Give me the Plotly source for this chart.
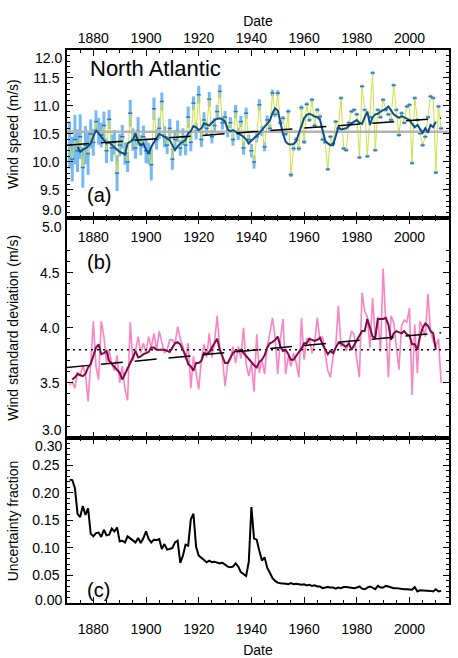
import plotly.graph_objects as go

# annual values
years = list(range(1871, 2013))

speed = [
    10.30, 10.05, 10.40, 10.20, 10.45, 9.90, 10.30, 10.15, 10.50, 10.35,
    10.72, 10.55, 10.48, 10.65, 10.20, 10.76, 10.25, 10.35, 9.80, 10.30,
    10.45, 10.15, 10.00, 10.87, 10.40, 10.25, 10.55, 10.30, 10.45, 10.20,
    10.15, 9.95, 10.95, 10.40, 10.60, 11.08, 10.45, 10.30, 10.60, 10.05,
    10.40, 10.55, 10.25, 10.45, 10.30, 10.80, 10.35, 11.05, 10.55, 11.20,
    10.40, 10.75, 10.60, 11.12, 10.45, 10.65, 10.90, 11.26, 10.70, 10.80,
    10.55, 10.70, 10.40, 10.90, 10.50, 10.72, 10.25, 10.87, 10.40, 10.20,
    10.00, 10.45, 11.02, 10.55, 10.27, 10.75, 10.60, 11.23, 10.85, 11.23,
    10.70, 10.78, 10.50, 10.90, 9.77, 10.24, 10.40, 10.24, 10.97, 10.36,
    11.03, 10.75, 11.11, 10.65, 10.93, 10.81, 10.40, 10.35, 9.87, 10.45,
    10.33, 10.72, 10.60, 11.14, 10.24, 10.21, 10.70, 10.90, 10.93, 10.85,
    10.08, 11.35, 10.93, 10.10, 10.80, 11.59, 10.21, 10.93, 10.80, 11.11,
    10.93, 10.85, 10.75, 11.37, 10.93, 10.48, 10.87, 10.70, 10.99, 11.02,
    9.98, 11.14, 10.75, 10.51, 10.30, 10.45, 10.80, 11.17, 11.14, 9.81,
    10.99, 10.60,
]

speed_err = [
    0.42, 0.40, 0.44, 0.38, 0.40, 0.36, 0.34, 0.38, 0.26, 0.24,
    0.20, 0.24, 0.22, 0.25, 0.22, 0.17, 0.24, 0.22, 0.32, 0.20,
    0.21, 0.20, 0.18, 0.24, 0.20, 0.19, 0.25, 0.18, 0.20, 0.22,
    0.19, 0.28, 0.20, 0.18, 0.19, 0.16, 0.19, 0.16, 0.17, 0.19,
    0.17, 0.19, 0.14, 0.15, 0.18, 0.19, 0.16, 0.12, 0.15, 0.16,
    0.13, 0.14, 0.12, 0.13, 0.12, 0.13, 0.12, 0.12, 0.12, 0.11,
    0.11, 0.10, 0.11, 0.12, 0.11, 0.10, 0.12, 0.10, 0.09, 0.12,
    0.12, 0.10, 0.10, 0.09, 0.08, 0.08, 0.07, 0.06, 0.05, 0.05,
    0.04, 0.04, 0.04, 0.04, 0.04, 0.04, 0.04, 0.04, 0.04, 0.04,
    0.035, 0.035, 0.035, 0.035, 0.035, 0.035, 0.03, 0.03, 0.03, 0.03,
    0.03, 0.03, 0.03, 0.03, 0.03, 0.03, 0.03, 0.03, 0.03, 0.03,
    0.03, 0.03, 0.03, 0.03, 0.03, 0.03, 0.03, 0.03, 0.03, 0.03,
    0.03, 0.03, 0.03, 0.03, 0.03, 0.03, 0.03, 0.03, 0.03, 0.03,
    0.03, 0.03, 0.03, 0.03, 0.03, 0.03, 0.03, 0.03, 0.03, 0.03,
    0.03, 0.03,
]

speed_smooth_years = list(range(1874, 2011))
speed_smooth = [
    10.27, 10.18, 10.22, 10.24, 10.28, 10.33, 10.45,
    10.57, 10.51, 10.45, 10.38, 10.33, 10.35, 10.30, 10.26, 10.22, 10.18,
    10.16, 10.13, 10.33, 10.36, 10.39, 10.51, 10.36, 10.30, 10.33, 10.22,
    10.15, 10.27, 10.35, 10.42, 10.50, 10.48, 10.45, 10.42, 10.39, 10.30,
    10.21, 10.28, 10.33, 10.36, 10.39, 10.51, 10.55, 10.64, 10.62, 10.57,
    10.60, 10.69, 10.67, 10.65, 10.70, 10.75, 10.77, 10.78, 10.76, 10.72,
    10.58, 10.55, 10.57, 10.54, 10.51, 10.48, 10.45, 10.40, 10.33, 10.38,
    10.43, 10.47, 10.51, 10.58, 10.63, 10.68, 10.74, 10.87, 10.96, 10.92,
    10.72, 10.50, 10.36, 10.32, 10.31, 10.32, 10.37, 10.51, 10.66, 10.78,
    10.84, 10.86, 10.84, 10.81, 10.80, 10.76, 10.57, 10.38, 10.33, 10.30,
    10.30, 10.45, 10.62, 10.58, 10.59, 10.60, 10.64, 10.69, 10.72, 10.75,
    10.70, 10.68, 10.80, 10.90, 10.66, 10.80, 10.85, 10.86, 10.90, 10.92,
    10.95, 10.99, 10.92, 10.85, 10.82, 10.79, 10.82, 10.80, 10.78, 10.75,
    10.68, 10.62, 10.66, 10.58, 10.52, 10.60, 10.52, 10.66, 10.62, 10.72,
]

speed_trend_years = [1870, 2012]
speed_trend = [10.30, 10.78]
speed_mean = 10.54

sd = [
    3.48, 3.51, 3.45, 3.60, 3.56, 3.66, 3.58, 3.33, 3.68, 4.06,
    3.65, 3.53, 4.06, 3.92, 3.68, 3.80, 3.67, 3.61, 3.75, 3.50,
    3.65, 3.44, 3.34, 4.05, 3.70, 3.79, 3.92, 3.77, 3.86, 3.77,
    3.92, 3.82, 3.95, 3.80, 3.97, 3.86, 3.77, 3.80, 3.89, 3.89,
    3.85, 4.01, 3.90, 3.83, 3.71, 3.86, 3.45, 3.74, 3.59, 3.44,
    3.71, 3.85, 3.73, 3.95, 3.73, 3.87, 4.11, 3.82, 3.73, 3.47,
    3.67, 3.71, 3.83, 3.68, 3.83, 3.72, 4.00, 3.67, 3.56, 3.68,
    3.42, 3.94, 3.59, 3.71, 3.58, 3.83, 3.95, 4.09, 3.91, 3.58,
    3.90, 4.08, 3.58, 3.74, 3.65, 3.77, 3.68, 3.55, 4.09, 3.71,
    3.90, 3.90, 3.77, 3.86, 4.09, 3.89, 3.92, 3.76, 3.61, 3.55,
    3.74, 3.83, 4.20, 3.83, 3.86, 3.79, 3.86, 3.97, 3.94, 3.71,
    3.55, 4.32, 4.15, 4.10, 3.82, 4.27, 3.91, 4.10, 3.78, 4.54,
    3.97, 3.55, 4.11, 4.05, 3.83, 3.62, 4.02, 4.07, 4.05, 4.18,
    3.39, 4.03, 3.59, 4.06, 4.00, 3.92, 4.31, 3.97, 3.88, 3.83,
    3.90, 3.50,
]

sd_smooth_years = list(range(1872, 2011))
sd_smooth = [
    3.53, 3.55, 3.58, 3.57, 3.56, 3.58, 3.64, 3.67, 3.75,
    3.82, 3.85, 3.76, 3.77, 3.79, 3.70, 3.67, 3.65, 3.62, 3.59,
    3.53, 3.58, 3.63, 3.67, 3.73, 3.79, 3.73, 3.74, 3.76, 3.77,
    3.78, 3.82, 3.82, 3.80, 3.80, 3.80, 3.80, 3.79, 3.78, 3.82,
    3.86, 3.87, 3.85, 3.80, 3.75, 3.67, 3.65, 3.61, 3.68, 3.68,
    3.70, 3.77, 3.76, 3.78, 3.82, 3.86, 3.90, 3.80, 3.73, 3.68,
    3.68, 3.73, 3.77, 3.79, 3.79, 3.80, 3.77, 3.74, 3.71, 3.68,
    3.66, 3.64, 3.69, 3.71, 3.75, 3.82, 3.86, 3.87, 3.89, 3.92,
    3.83, 3.79, 3.80, 3.76, 3.71, 3.71, 3.75, 3.78, 3.81, 3.86,
    3.86, 3.90, 3.89, 3.88, 3.89, 3.91, 3.85, 3.80, 3.76, 3.79,
    3.77, 3.82, 3.86, 3.86, 3.84, 3.83, 3.86, 3.80, 3.84, 3.88,
    3.92, 3.97, 3.97, 4.08, 4.00, 3.92, 3.91, 4.08, 4.08, 4.08,
    4.09, 4.03, 3.89, 3.95, 3.97, 3.96, 3.95, 3.97, 3.94, 3.93,
    3.85, 3.85, 3.80, 3.92, 4.00, 4.04, 4.02, 3.97, 3.95, 3.80,
]

sd_trend_years = [1870, 2012]
sd_trend = [3.64, 3.955]
sd_mean = 3.80

frac = [
    0.224, 0.223, 0.209, 0.162, 0.156, 0.176, 0.160, 0.172, 0.126, 0.121,
    0.127, 0.128, 0.120, 0.133, 0.123, 0.124, 0.135, 0.130, 0.137, 0.112,
    0.113, 0.110, 0.121, 0.117, 0.113, 0.110, 0.118, 0.109, 0.118, 0.130,
    0.116, 0.110, 0.115, 0.114, 0.116, 0.098, 0.107, 0.097, 0.098, 0.100,
    0.110, 0.113, 0.073, 0.086, 0.106, 0.104, 0.152, 0.162, 0.102, 0.086,
    0.082, 0.078, 0.074, 0.077, 0.074, 0.075, 0.073, 0.072, 0.073, 0.070,
    0.066, 0.065, 0.066, 0.072, 0.066, 0.056, 0.053, 0.049, 0.075, 0.174,
    0.117, 0.115, 0.095, 0.077, 0.083, 0.064, 0.055, 0.045, 0.040, 0.037,
    0.036, 0.036, 0.035, 0.034, 0.036, 0.034, 0.035, 0.034, 0.033, 0.034,
    0.032, 0.033, 0.031, 0.032, 0.030, 0.030, 0.027, 0.028, 0.029, 0.028,
    0.028, 0.026, 0.028, 0.027, 0.029, 0.029, 0.028, 0.027, 0.027, 0.028,
    0.030, 0.026, 0.025, 0.028, 0.030, 0.028, 0.025, 0.031, 0.028, 0.028,
    0.031, 0.030, 0.028, 0.027, 0.027, 0.026, 0.026, 0.025, 0.025, 0.024,
    0.024, 0.029, 0.021, 0.023, 0.023, 0.023, 0.023, 0.022, 0.021, 0.025,
    0.021, 0.022,
]

x_range = [1870, 2015]
FONT = "Liberation Sans"
TREND_DASH = "22px,12px"

fig = go.Figure()

# (a) wind speed
fig.add_trace(go.Scatter(
    x=years, y=speed, mode="markers",
    marker=dict(size=1, color="rgba(0,0,0,0)"),
    error_y=dict(type="data", array=speed_err, thickness=3, width=0, color="#74b9f7"),
    xaxis="x", yaxis="y"
))
fig.add_trace(go.Scatter(
    x=years, y=speed, mode="lines",
    line=dict(color="#cde23f", width=1),
    xaxis="x", yaxis="y"
))
fig.add_trace(go.Scatter(
    x=years, y=speed, mode="markers",
    marker=dict(symbol="line-ew", size=3, line=dict(color="#2f72c4", width=1.5)),
    xaxis="x", yaxis="y"
))
fig.add_trace(go.Scatter(
    x=x_range, y=[speed_mean, speed_mean], mode="lines",
    line=dict(color="#b3b3b3", width=2.5),
    xaxis="x", yaxis="y"
))
fig.add_trace(go.Scatter(
    x=speed_smooth_years, y=speed_smooth, mode="lines",
    line=dict(color="#0c4e8f", width=2),
    xaxis="x", yaxis="y"
))
fig.add_trace(go.Scatter(
    x=speed_trend_years, y=speed_trend, mode="lines",
    line=dict(color="black", width=1.5, dash=TREND_DASH),
    xaxis="x", yaxis="y"
))

# (b) wind standard deviation
fig.add_trace(go.Scatter(
    x=years, y=sd, mode="lines",
    line=dict(color="#fc82c2", width=1.6),
    xaxis="x2", yaxis="y2"
))
fig.add_trace(go.Scatter(
    x=x_range, y=[sd_mean, sd_mean], mode="lines",
    line=dict(color="black", width=1.5, dash="2px,4px"),
    xaxis="x2", yaxis="y2"
))
fig.add_trace(go.Scatter(
    x=sd_smooth_years, y=sd_smooth, mode="lines",
    line=dict(color="#7a0a48", width=2),
    xaxis="x2", yaxis="y2"
))
fig.add_trace(go.Scatter(
    x=sd_trend_years, y=sd_trend, mode="lines",
    line=dict(color="black", width=1.5, dash=TREND_DASH),
    xaxis="x2", yaxis="y2"
))

# (c) uncertainty fraction
fig.add_trace(go.Scatter(
    x=years, y=frac, mode="lines",
    line=dict(color="black", width=2),
    xaxis="x3", yaxis="y3"
))

axis_style = dict(
    showline=True, linecolor="black", linewidth=1.5, mirror="ticks",
    ticks="inside", ticklen=6, tickwidth=1.2, tickcolor="black",
    showgrid=False, zeroline=False, automargin=False,
    tickfont=dict(size=14, color="black", family=FONT),
)
x_style = dict(
    axis_style, range=x_range, tick0=1880, dtick=20,
    minor=dict(ticks="inside", ticklen=3, tick0=1875, dtick=5, tickcolor="black", showgrid=False),
)
y_minor = dict(ticks="inside", ticklen=3, tickcolor="black", showgrid=False)

dom_c = [0, 0.2988]
dom_b = [0.2988, 0.6964]
dom_a = [0.6964, 1]

fig.update_layout(
    width=458, height=658,
    margin=dict(l=67, r=9, t=50, b=55, pad=0, autoexpand=False),
    paper_bgcolor="white", plot_bgcolor="white",
    showlegend=False,
    font=dict(family=FONT, size=14, color="black"),
    xaxis=dict(x_style, anchor="y", side="top",
               title=dict(text="Date", font=dict(size=14), standoff=0)),
    xaxis2=dict(x_style, anchor="y2", side="top", ticklabelposition="inside",
                ticklabelstandoff=8, matches="x"),
    xaxis3=dict(x_style, anchor="y3", side="bottom", matches="x", ticklabelstandoff=12,
                title=dict(text="Date", font=dict(size=14), standoff=11)),
    xaxis4=dict(range=x_range, anchor="y3", overlaying="x3", side="top",
                tick0=1880, dtick=20, ticks="", showline=False, showgrid=False,
                ticklabelposition="inside", ticklabelstandoff=7, automargin=False,
                tickfont=dict(size=14, color="black", family=FONT)),
    yaxis=dict(axis_style, domain=dom_a, range=[9, 12], ticklabelstandoff=3,
               tickvals=[9.5, 10, 10.5, 11, 11.5], tickformat=".1f",
               minor=dict(y_minor, dtick=0.1, tick0=9)),
    yaxis2=dict(axis_style, domain=dom_b, range=[3, 5], ticklabelstandoff=3,
                tickvals=[3.5, 4.0, 4.5], tickformat=".1f",
                minor=dict(y_minor, dtick=0.1, tick0=3)),
    yaxis3=dict(axis_style, domain=dom_c, range=[0, 0.3], ticklabelstandoff=3,
                tickvals=[0.05, 0.10, 0.15, 0.20, 0.25], tickformat=".2f",
                minor=dict(y_minor, dtick=0.01, tick0=0)),
)

# y axis titles, centred on each panel
y_titles = [
    ("Wind speed (m/s)", "y domain"),
    ("Wind standard deviation (m/s)", "y2 domain"),
    ("Uncertainty fraction", "y3 domain"),
]
for text, yref in y_titles:
    fig.add_annotation(
        text=text, textangle=-90, xref="paper", x=-0.1414, xanchor="center",
        yref=yref, y=0.5, yanchor="middle", showarrow=False,
        font=dict(size=14, color="black", family=FONT),
    )

# end labels of each y axis sit just inside the panel edges
end_labels = [
    ("12.0", "y", 12, -8), ("9.0", "y", 9, 8),
    ("5.0", "y2", 5, -9), ("3.0", "y2", 3, 8),
    ("0.30", "y3", 0.3, -8), ("0.00", "y3", 0, 3),
]
for text, yref, yval, shift in end_labels:
    fig.add_annotation(
        text=text, xref="paper", x=0, xanchor="right", xshift=-4,
        yref=yref, y=yval, yanchor="middle", yshift=shift, borderpad=0,
        showarrow=False, font=dict(size=14, color="black", family=FONT),
    )

# panel labels
panel_labels = [
    ("North Atlantic", "x domain", "y domain", 0.055, 0.89, 22),
    ("(a)", "x domain", "y domain", 0.046, 0.137, 20),
    ("(b)", "x2 domain", "y2 domain", 0.046, 0.80, 20),
    ("(c)", "x3 domain", "y3 domain", 0.046, 0.08, 20),
]
for text, xref, yref, xv, yv, size in panel_labels:
    fig.add_annotation(
        text=text, xref=xref, yref=yref, x=xv, y=yv,
        xanchor="left", yanchor="middle", showarrow=False,
        font=dict(size=size, color="black", family=FONT),
    )

fig.write_html(
    "out.html",
    config={"displayModeBar": False},
    post_script="document.body.style.margin = '0';",
)
